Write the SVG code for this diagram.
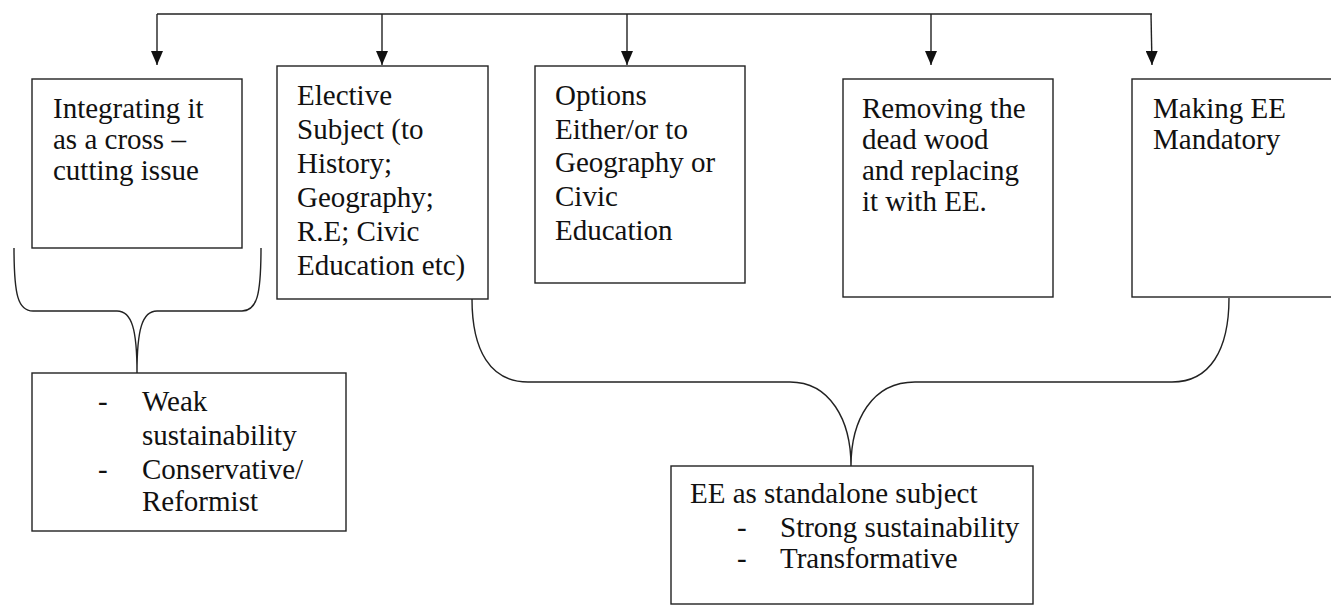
<svg xmlns="http://www.w3.org/2000/svg" width="1331" height="608" viewBox="0 0 1331 608">
<defs>
<style>
.box{fill:#fff;stroke:#222;stroke-width:1.4}
.t{font-family:"Liberation Serif","Times New Roman",serif;font-size:29px;fill:#111}
.ln{fill:none;stroke:#222;stroke-width:1.4}
</style>
<marker id="ah" viewBox="0 0 14 12" refX="14" refY="6" markerWidth="14" markerHeight="12" markerUnits="userSpaceOnUse" orient="auto">
<path d="M0,0 L14,6 L0,12 Z" fill="#111"/>
</marker>
</defs>
<rect width="1331" height="608" fill="#fff"/>
<g id="connectors">
<path class="ln" d="M157,14 L1152,14"/>
<path class="ln" d="M157,14 L157,65" marker-end="url(#ah)"/>
<path class="ln" d="M382,14 L382,65" marker-end="url(#ah)"/>
<path class="ln" d="M627,14 L627,65" marker-end="url(#ah)"/>
<path class="ln" d="M931,14 L931,65" marker-end="url(#ah)"/>
<path class="ln" d="M1151,14 L1152,65" marker-end="url(#ah)"/>
<path class="ln" d="M14,248 C14,295 18,311 33,311 L117,311 C132,311 137,330 137,373 M137,373 C137,330 142,311 157,311 L242,311 C257,311 261,295 261,248"/>
<path class="ln" d="M472,299 C472,350 490,382 528,382 L790,382 C830,382 851,420 851,466 M851,466 C851,420 872,382 915,382 L1172,382 C1210,382 1229,350 1229,298"/>
</g>
<g id="n1">
<rect class="box" x="32" y="79" width="210" height="169"/>
<text class="t" x="53" y="118">Integrating it</text>
<text class="t" x="53" y="149">as a cross –</text>
<text class="t" x="53" y="180">cutting issue</text>
</g>
<g id="n2">
<rect class="box" x="277" y="66" width="211" height="233"/>
<text class="t" x="297" y="105">Elective</text>
<text class="t" x="297" y="139">Subject (to</text>
<text class="t" x="297" y="173">History;</text>
<text class="t" x="297" y="207">Geography;</text>
<text class="t" x="297" y="241">R.E; Civic</text>
<text class="t" x="297" y="275">Education etc)</text>
</g>
<g id="n3">
<rect class="box" x="535" y="66" width="210" height="217"/>
<text class="t" x="555" y="105">Options</text>
<text class="t" x="555" y="139">Either/or to</text>
<text class="t" x="555" y="172">Geography or</text>
<text class="t" x="555" y="206">Civic</text>
<text class="t" x="555" y="240">Education</text>
</g>
<g id="n4">
<rect class="box" x="843" y="79" width="210" height="218"/>
<text class="t" x="862" y="118">Removing the</text>
<text class="t" x="862" y="149">dead wood</text>
<text class="t" x="862" y="180">and replacing</text>
<text class="t" x="862" y="211">it with EE.</text>
</g>
<g id="n5">
<rect class="box" x="1132" y="79" width="210" height="218"/>
<text class="t" x="1153" y="118">Making EE</text>
<text class="t" x="1153" y="149">Mandatory</text>
</g>
<g id="n6">
<rect class="box" x="32" y="373" width="314" height="158"/>
<text class="t" x="98" y="411">-</text>
<text class="t" x="142" y="411">Weak</text>
<text class="t" x="142" y="445">sustainability</text>
<text class="t" x="98" y="479">-</text>
<text class="t" x="142" y="479">Conservative/</text>
<text class="t" x="142" y="511">Reformist</text>
</g>
<g id="n7">
<rect class="box" x="671" y="466" width="362" height="138"/>
<text class="t" x="690" y="503">EE as standalone subject</text>
<text class="t" x="737" y="537">-</text>
<text class="t" x="780" y="537">Strong sustainability</text>
<text class="t" x="737" y="568">-</text>
<text class="t" x="780" y="568">Transformative</text>
</g>
</svg>
